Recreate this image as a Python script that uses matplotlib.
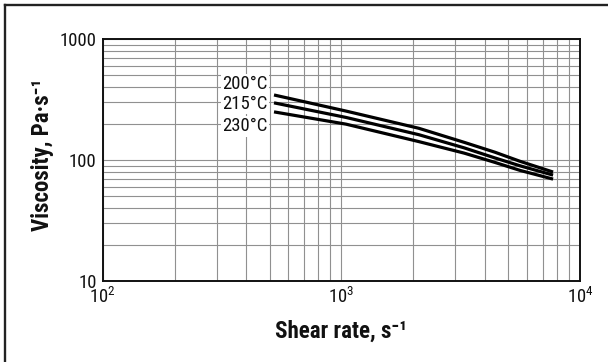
import matplotlib
matplotlib.use('Agg')
from matplotlib import pyplot as plt
from matplotlib.lines import Line2D
from matplotlib.ticker import LogLocator, NullFormatter, FixedLocator

# Shear rate (1/s) and viscosity (Pa.s) for each melt temperature
shear_rate = [522, 1045, 2110, 3270, 4400, 5610, 7710]
visc_200 = [345, 254, 183, 140, 116, 97.5, 79.5]
visc_215 = [297, 225, 162, 126, 104, 89.5, 75]
visc_230 = [250, 198, 142, 114, 95.5, 82, 69.5]

curve_labels = ['200°C', '215°C', '230°C']
label_y = [424, 290, 190]

x_ticks = [100, 1000, 10000]
x_tick_labels = [r'$\mathregular{10^{2}}$', r'$\mathregular{10^{3}}$', r'$\mathregular{10^{4}}$']
y_ticks = [10, 100, 1000]
y_tick_labels = ['10', '100', '1000']

# narrow face first if present, DejaVu only for missing glyphs
plt.rcParams['font.family'] = ['Roboto Condensed', 'DejaVu Sans Condensed',
                               'Liberation Sans Narrow', 'Liberation Sans', 'DejaVu Sans']
plt.rcParams['mathtext.fontset'] = 'custom'
plt.rcParams['mathtext.rm'] = 'Roboto Condensed'

fig = plt.figure(figsize=(6.08, 3.62), dpi=100)
ax = fig.add_axes([0.169, 0.224, 0.785, 0.668])

ax.set_xscale('log')
ax.set_yscale('log')
ax.set_xlim(100, 10000)
ax.set_ylim(10, 1000)

ax.xaxis.set_major_locator(FixedLocator(x_ticks))
ax.xaxis.set_minor_locator(LogLocator(base=10, subs=range(2, 10)))
ax.yaxis.set_major_locator(FixedLocator(y_ticks))
ax.yaxis.set_minor_locator(LogLocator(base=10, subs=range(2, 10)))
ax.xaxis.set_minor_formatter(NullFormatter())
ax.yaxis.set_minor_formatter(NullFormatter())
ax.set_xticklabels(x_tick_labels)
ax.set_yticklabels(y_tick_labels)
ax.tick_params(which='both', length=0, labelsize=13.5, colors='#111111')
ax.tick_params(axis='x', pad=4.5)
ax.tick_params(axis='y', pad=4.3)

ax.grid(which='both', color='#909090', linewidth=0.8)
ax.set_axisbelow(True)
for s in ax.spines.values():
    s.set_linewidth(1.4)
    s.set_color('#111111')

for v in (visc_200, visc_215, visc_230):
    ax.plot(shear_rate, v, color='black', linewidth=2.3, solid_capstyle='butt',
            solid_joinstyle='round', zorder=3)

for txt, y in zip(curve_labels, label_y):
    ax.text(490, y, txt, ha='right', va='center', fontsize=13.5, color='#111111',
            bbox=dict(facecolor='white', edgecolor='none', pad=1.0), zorder=4)

ax.set_xlabel('Shear rate, s⁻¹', fontsize=16.5, fontweight='bold', color='#111111')
ax.set_ylabel('Viscosity, Pa·s⁻¹', fontsize=16.5, fontweight='bold', color='#111111')
ax.xaxis.set_label_coords(0.5, -0.16)
ax.yaxis.set_label_coords(-0.102, 0.52)

# frame along the top and left edges
fig.add_artist(Line2D([4.5 / 608, 4.5 / 608], [0, 1 - 4.5 / 362], color='#222222', linewidth=1.7))
fig.add_artist(Line2D([4.5 / 608, 1], [1 - 4.5 / 362, 1 - 4.5 / 362], color='#222222', linewidth=1.7))

fig.savefig('out.png', dpi=100)
